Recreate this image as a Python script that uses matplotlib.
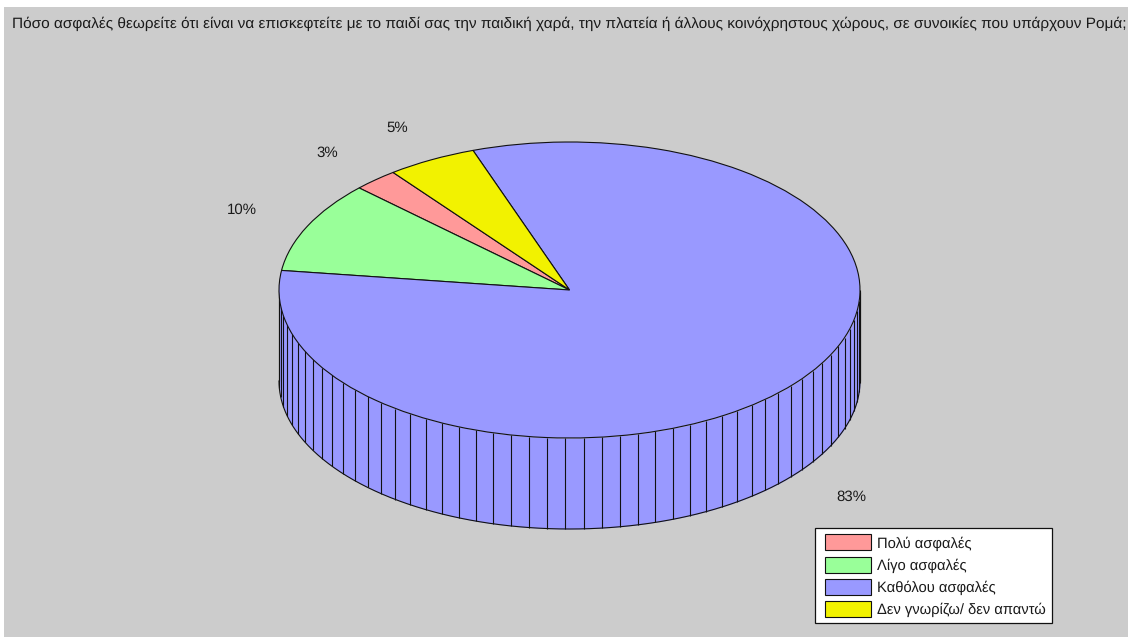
import numpy as np
import matplotlib
matplotlib.use("Agg")
import matplotlib.pyplot as plt
from matplotlib.legend_handler import HandlerPatch
from matplotlib.patches import Rectangle, Wedge

categories = ["Πολύ ασφαλές", "Λίγο ασφαλές", "Καθόλου ασφαλές", "Δεν γνωρίζω/ δεν απαντώ"]
values = [2.5, 10.0, 82.5, 5.0]
value_labels = ["3%", "10%", "83%", "5%"]
colors = ["#FF9999", "#99FF99", "#9999FF", "#F2F200"]
title = ("Πόσο ασφαλές θεωρείτε ότι είναι να επισκεφτείτε με το παιδί σας την παιδική χαρά, "
         "την πλατεία ή άλλους κοινόχρηστους χώρους, σε συνοικίες που υπάρχουν Ρομά;")

W, H = 1139, 637
PANEL = (4, 7, 1128, 637)
CX, CY, RX, RY = 569.5, 290.0, 290.5, 148.0
DEPTH = 91.0 / RY
START = 127.4
BG = "#CCCCCC"
EDGE = "#111111"
TEXT = "#1A1A1A"

plt.rcParams["font.family"] = ["Liberation Sans", "DejaVu Sans"]
plt.rcParams["text.hinting"] = "no_hinting"
fig = plt.figure(figsize=(W / 100, H / 100), dpi=100, facecolor="white")
x0, y0, x1, y1 = PANEL
ax = fig.add_axes([x0 / W, 1 - y1 / H, (x1 - x0) / W, (y1 - y0) / H])

wedges, _ = ax.pie(values, colors=colors, startangle=START, counterclock=True, radius=1,
                   wedgeprops=dict(edgecolor=EDGE, linewidth=0.8, zorder=3))
ax.set_aspect("auto")
ax.set_xlim((x0 - CX) / RX, (x1 - CX) / RX)
ax.set_ylim((CY - y1) / RY, (CY - y0) / RY)
ax.set_frame_on(True)
ax.set_facecolor(BG)
for s in ax.spines.values():
    s.set_visible(False)

# cylinder wall: the front half of the pie, extruded downward
th = np.radians(np.linspace(180, 360, 361))
ax.fill_between(np.cos(th), np.sin(th), np.sin(th) - DEPTH, color=colors[2], linewidth=0, zorder=1)
ax.plot(np.cos(th), np.sin(th) - DEPTH, color=EDGE, lw=0.8, zorder=2)
tick_th = np.radians(np.arange(182.8, 360, 3.6))
ax.vlines(np.cos(tick_th), np.sin(tick_th) - DEPTH, np.sin(tick_th), color=EDGE, lw=0.8, zorder=2)
ax.vlines([-1, 1], -DEPTH, 0, color=EDGE, lw=0.8, zorder=2)

# percentage labels
fractions = np.array(values) / sum(values)
cum = np.cumsum(np.r_[0, fractions])
for i, lab in enumerate(value_labels):
    a = np.radians(START + 360 * (cum[i] + cum[i + 1]) / 2)
    lx, ly = 1.25 * np.cos(a), 1.245 * np.sin(a)
    if ly < 0:
        ly -= DEPTH
    ax.text(lx, ly, lab, ha="center", va="center", fontsize=10.8, color=TEXT, zorder=5)

fig.text(12 / W, 1 - 24 / H, title, ha="left", va="center", fontsize=11.06, color=TEXT)


def inset_swatch(legend, orig_handle, xdescent, ydescent, width, height, fontsize):
    inset = 2.9
    return Rectangle((-xdescent + inset, -ydescent), width - inset, height)


leg = ax.legend(wedges, categories, loc="lower right",
                bbox_to_anchor=(1052 / W, 1 - 623 / H), bbox_transform=fig.transFigure,
                fontsize=10.6, frameon=True, fancybox=False, framealpha=1, facecolor="white",
                edgecolor=EDGE, borderaxespad=0, handlelength=3.4, handleheight=1.3,
                handletextpad=0.4, labelspacing=0.41, borderpad=0.42, labelcolor=TEXT,
                handler_map={Wedge: HandlerPatch(patch_func=inset_swatch)})
leg.get_frame().set_linewidth(0.9)
leg.set_zorder(6)

fig.savefig("out.png", dpi=100, facecolor="white")
